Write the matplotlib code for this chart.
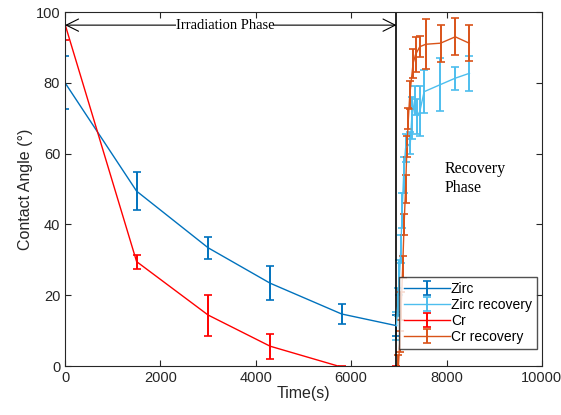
from matplotlib import pyplot as plt
import numpy as np

# irradiation phase
t_irr = [0, 1500, 3000, 4300, 5800, 6950]
zirc = [80, 49.4, 33.4, 23.4, 14.7, 11.4]
zirc_err = [7.5, 5.4, 3.1, 4.8, 2.7, 3]
cr = [96.5, 29.5, 14.4, 5.6, -0.3, -0.3]
cr_err = [4.5, 2, 5.8, 3.5, 0.2, 0.2]

# recovery phase
t_zrec = [6950, 6980, 7010, 7040, 7070, 7100, 7140, 7240, 7270, 7330, 7385, 7440, 7530, 7870, 8180, 8480]
zirc_rec = [11.4, 18, 25, 33, 44, 54, 61.5, 63, 70, 75, 70.5, 72, 77.5, 79.5, 81.3, 82.7]
zirc_rec_err = [4, 4, 5, 4, 5, 5, 4, 3, 6, 4, 5, 7, 6, 7.4, 3.2, 4.9]

t_crec = [6990, 7020, 7050, 7080, 7110, 7140, 7170, 7200, 7228, 7298, 7350, 7438, 7565, 7873, 8183, 8475]
cr_rec = [0, 7, 17, 28, 40, 50, 62, 70, 76.5, 85.5, 88, 90.2, 90.9, 91.2, 93, 91.2]
cr_rec_err = [3, 3, 4, 3, 3, 4, 3, 3, 4, 4, 5, 3, 7, 5.2, 5.2, 5]

c_zirc = '#0072BD'
c_zrec = '#4DBEEE'
c_cr = '#FF0000'
c_crec = '#D95319'

plt.rcParams['font.family'] = ['Liberation Sans', 'DejaVu Sans']

fig = plt.figure(figsize=(5.61, 4.15), dpi=100)
ax = fig.add_axes([0.116, 0.118, 0.85, 0.853])

eb = dict(lw=1, elinewidth=1.4, capsize=2.8, capthick=1.2)
ax.errorbar(t_irr, zirc, yerr=zirc_err, color=c_zirc, label='Zirc', **eb)
ax.errorbar(t_zrec, zirc_rec, yerr=zirc_rec_err, color=c_zrec, label='Zirc recovery', **eb)
ax.errorbar(t_irr, cr, yerr=cr_err, color=c_cr, label='Cr', **eb)
ax.errorbar(t_crec, cr_rec, yerr=cr_rec_err, color=c_crec, label='Cr recovery', **eb)

ax.axvline(6950, color='black', lw=1.2)

ax.annotate('', xy=(0, 96.3), xytext=(6950, 96.3),
            arrowprops=dict(arrowstyle='<->', color='black', lw=0.8,
                            shrinkA=0, shrinkB=0, mutation_scale=22))
ax.text(3350, 96.3, 'Irradiation Phase', family='Liberation Serif', fontsize=10.5,
        ha='center', va='center', bbox=dict(facecolor='white', edgecolor='none', pad=0))
ax.text(7960, 53, 'Recovery\nPhase', family='Liberation Serif', fontsize=11.5,
        ha='left', va='center', linespacing=1.2)

ax.set_xlim(0, 10000)
ax.set_ylim(0, 100)
ax.set_xticks(np.arange(0, 10001, 2000))
ax.set_yticks(np.arange(0, 101, 20))
ax.tick_params(direction='in', top=True, right=True, labelsize=10.5, colors='#262626', length=4)
for s in ax.spines.values():
    s.set_color('#262626')
    s.set_linewidth(0.8)

ax.set_xlabel('Time(s)', fontsize=11.5, color='#262626', labelpad=1)
ax.set_ylabel('Contact Angle (°)', fontsize=11.5, color='#262626', labelpad=2)

leg = ax.legend(loc='lower right', bbox_to_anchor=(0.995, 0.04), fontsize=10, frameon=True,
                fancybox=False, edgecolor='#262626', handlelength=3.3, labelspacing=0.15,
                borderpad=0.35, handletextpad=0.1, borderaxespad=0.2)
leg.get_frame().set_linewidth(1.0)

fig.savefig('out.png', dpi=100)
